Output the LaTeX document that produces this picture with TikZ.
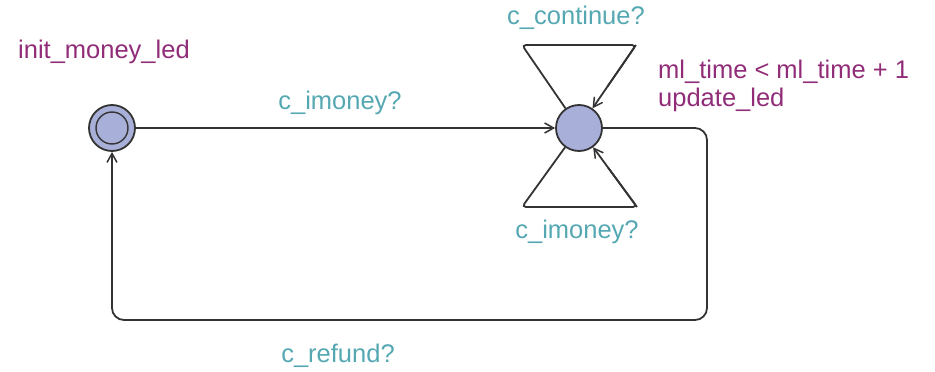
\documentclass[tikz,border=0pt]{standalone}
\usepackage{fontspec}
\setmainfont{Liberation Sans}
\usetikzlibrary{arrows.meta,calc}
\definecolor{locfill}{RGB}{168,176,218}
\definecolor{purp}{RGB}{145,45,120}
\definecolor{teal}{RGB}{85,168,178}
\begin{document}
\begin{tikzpicture}[x=1pt,y=-1pt,
  loc/.style={circle,draw=black!80,line width=1.8pt,fill=locfill,minimum size=46pt,inner sep=0pt},
  inner/.style={circle,draw=black!80,line width=1.4pt,fill=locfill,minimum size=32pt,inner sep=0pt},
  edge/.style={draw=black!80,line width=1.8pt},
  arr/.style={edge,-{Straight Barb[length=9pt,width=10pt,line width=1.5pt]}},
  lbl/.style={font=\fontsize{25.5}{30}\selectfont,inner sep=0pt},
  sync/.style={lbl,text=teal},
  upd/.style={lbl,text=purp}]
\useasboundingbox (0,0) rectangle (935,372);
\node[loc] (init) at (112,128) {};
\node[inner] (initin) at (112,128) {};
\node[loc] (s) at (579,128) {};
\coordinate (tl) at (522,45);
\coordinate (tr) at (636,45);
\coordinate (bl) at (522,207);
\coordinate (br) at (637,207);
\coordinate (rc) at (707,128);
\coordinate (rb) at (707,320);
\coordinate (lb) at (112,320);
\draw[arr] (init) -- (s);
\draw[edge,rounded corners=4pt] (s) -- (tl) -- (tr) -- ($(s)!0.5!(tr)$);
\draw[arr] (tr) -- (s);
\draw[edge,rounded corners=4pt] (s) -- (bl) -- (br) -- ($(s)!0.5!(br)$);
\draw[arr] (br) -- (s);
\draw[arr,rounded corners=12pt] (s.east) -- (rc) -- (rb) -- (lb) -- (init.south);
\node[upd,anchor=west] (name) at (18,52) {init\_money\_led};
\node[sync] (l1) at (340,103) {c\_imoney?};
\node[sync] (l2) at (576,18) {c\_continue?};
\node[upd,anchor=west] (l3) at (658,72) {ml\_time < ml\_time + 1};
\node[upd,anchor=west] (l4) at (658,100) {update\_led};
\node[sync] (l5) at (577,232) {c\_imoney?};
\node[sync] (l6) at (338,356) {c\_refund?};
\end{tikzpicture}
\end{document}
